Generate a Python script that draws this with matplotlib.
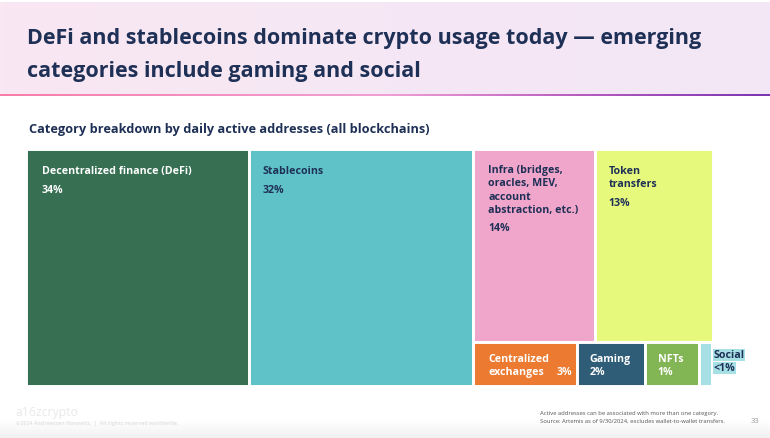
import numpy as np
from matplotlib import pyplot as plt
from matplotlib.colors import LinearSegmentedColormap
from matplotlib.patches import Rectangle

plt.rcParams['font.family'] = ['Open Sans', 'DejaVu Sans']

# area shares, the printed labels are rounded
names = ["Decentralized finance (DeFi)", "Stablecoins", "Infra (bridges,\noracles, MEV,\naccount\nabstraction, etc.)",
         "Token\ntransfers", "Centralized\nexchanges", "Gaming", "NFTs", "Social"]
shares = [32.48, 32.65, 14.45, 13.95, 2.80, 1.84, 1.46, 0.37]
pct_labels = ["34%", "32%", "14%", "13%", "3%", "2%", "1%", "<1%"]
colors = ["#366f52", "#5ec2c8", "#f0a6cb", "#e6f97c", "#ec7a30", "#2f5d78", "#82b553", "#a6e0e5"]

title = "DeFi and stablecoins dominate crypto usage today — emerging\ncategories include gaming and social"
subtitle = "Category breakdown by daily active addresses (all blockchains)"
note = "Active addresses can be associated with more than one category.\nSource: Artemis as of 9/30/2024, excludes wallet-to-wallet transfers."
navy = "#1e3056"
W, H = 770, 438


def layout(vals):
    # two full height columns, the rest split in a top and a bottom row
    rects = []
    x = 0
    for v in vals[:2]:
        rects.append((x, 0, v, 100))
        x += v
    rest = sum(vals[2:])
    top = sum(vals[2:4])
    top_h = 100 * top / rest
    xx = x
    for v in vals[2:4]:
        w = v / top * rest
        rects.append((xx, 100 - top_h, w, top_h))
        xx += w
    xx = x
    low = sum(vals[4:])
    for v in vals[4:]:
        w = v / low * rest
        rects.append((xx, 0, w, 100 - top_h))
        xx += w
    return rects


def px_axes(x0, y0, x1, y1):
    return fig.add_axes([x0 / W, 1 - y1 / H, (x1 - x0) / W, (y1 - y0) / H])


fig = plt.figure(figsize=(W / 100, H / 100), dpi=100, facecolor="white")

# header band
ax_head = px_axes(0, 2, W, 94)
head_cmap = LinearSegmentedColormap.from_list("head", ["#f9e8f2", "#f5e7f5", "#f3e6f6"])
ax_head.imshow(np.linspace(0, 1, 256).reshape(1, -1), cmap=head_cmap, aspect="auto")
ax_head.axis("off")

ax_line = px_axes(0, 93.5, W, 96)
line_cmap = LinearSegmentedColormap.from_list("line", ["#f77ea8", "#f38fc0", "#f0a0d4", "#b95cc0", "#7b35b0"])
ax_line.imshow(np.linspace(0, 1, 256).reshape(1, -1), cmap=line_cmap, aspect="auto")
ax_line.axis("off")

# footer fade
ax_foot = px_axes(0, 420, W, H)
foot_cmap = LinearSegmentedColormap.from_list("foot", ["#ffffff", "#f1f1f1"])
ax_foot.imshow(np.linspace(0, 1, 64).reshape(-1, 1), cmap=foot_cmap, aspect="auto")
ax_foot.axis("off")

fig.text(27 / W, 1 - 55 / H, title, fontsize=15.5, fontweight="bold", color=navy, va="center", linespacing=1.72)
fig.text(29 / W, 1 - 129 / H, subtitle, fontsize=9.2, fontweight="bold", color=navy, va="center")

# treemap
ax = px_axes(26, 149, 712.5, 385.5)
ax.set_xlim(0, 100)
ax.set_ylim(0, 100)
ax.axis("off")

rects = layout(shares)
for i, (x, y, w, h) in enumerate(rects):
    ax.add_patch(Rectangle((x, y), w, h, facecolor=colors[i], edgecolor="white", linewidth=2.1))

# label offsets from the top left corner of each box, in pixels
name_off = [(16, -17), (14, -17), (15, -16), (14, -17), (15, -12), (13, -12), (13, -12)]
pct_off = [(16, -36), (14, -36), (15, -74), (14, -49), (83, -25), (13, -25), (13, -25)]
txt_colors = ["white", navy, navy, navy, "white", "white", "white"]
for i in range(7):
    x, y, w, h = rects[i]
    ax.annotate(names[i], (x, y + h), xytext=name_off[i], textcoords="offset pixels", fontsize=7.7,
                fontweight="bold", color=txt_colors[i], va="top", linespacing=1.3)
    ax.annotate(pct_labels[i], (x, y + h), xytext=pct_off[i], textcoords="offset pixels", fontsize=7.7,
                fontweight="bold", color=txt_colors[i], va="top")

# Social does not fit in its box, so it sits beside it with a highlight
x, y, w, h = rects[7]
hl = dict(facecolor=colors[7], edgecolor="none", pad=0.6)
ax.annotate(names[7], (x + w, y + h), xytext=(1, -8), textcoords="offset pixels", fontsize=7.7, fontweight="bold",
            color=navy, va="top", bbox=hl, annotation_clip=False)
ax.annotate(pct_labels[7], (x + w, y + h), xytext=(1, -21), textcoords="offset pixels", fontsize=7.7, fontweight="bold",
            color=navy, va="top", bbox=hl, annotation_clip=False)

# footer
fig.text(16 / W, 1 - 412.5 / H, "a16zcrypto", fontsize=8.8, color="#e9e9e9", va="center")
fig.text(16 / W, 1 - 424 / H, "©2024 Andreessen Horowitz.  |  All rights reserved worldwide.", fontsize=3.75,
         color="#e4e4e4", va="center", fontweight="bold")
fig.text(540 / W, 1 - 417 / H, note, fontsize=4.25, color="#555555", va="center", linespacing=1.65)
fig.text(755.5 / W, 1 - 421.5 / H, "33", fontsize=5.5, color="#999999", va="center", ha="center")

fig.savefig("out.png", dpi=100)
